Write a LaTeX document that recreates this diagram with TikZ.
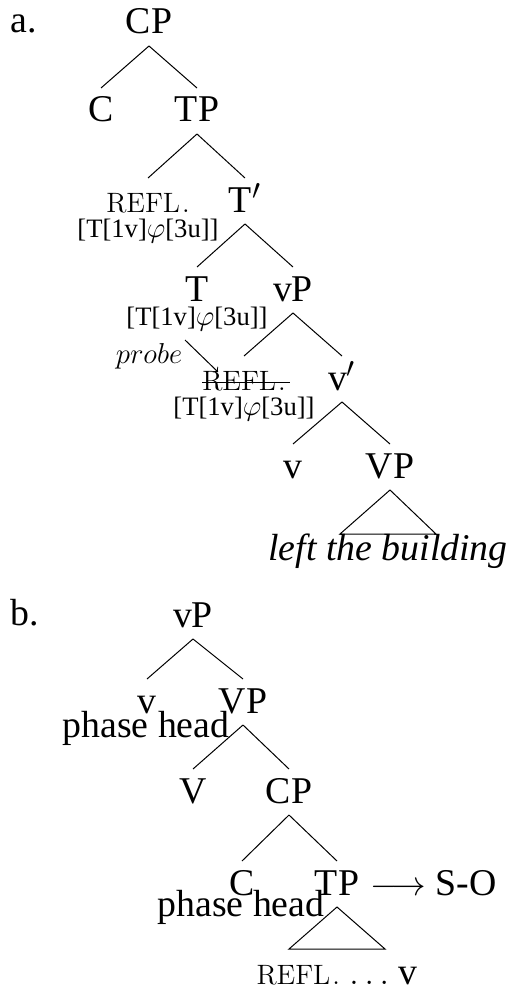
\documentclass[tikz,border=0pt]{standalone}
\usepackage{amsmath}
\usepackage{amsfonts}
\usepackage{fontspec}
\setmainfont{Liberation Serif}
\usepackage{tikz}
\usetikzlibrary{positioning,shapes,arrows,calc}
\newcommand{\refl}{{\fontfamily{lmr}\fontsize{14}{16}\selectfont REFL\kern1pt.}}
\newcommand{\featbundle}{[T[1v]$\varphi$[3u]]}

\begin{document}
\begin{tikzpicture}[x=0.5pt,y=-0.5pt]
\tikzstyle{every node}+=[inner sep=0pt,anchor=base]
\tikzstyle{cat}=[font=\fontsize{18.9}{22}\selectfont,text height=16.8pt,text depth=5.8pt]
\tikzstyle{feat}=[font=\fontsize{13.3}{16}\selectfont]
\tikzstyle{branch}=[black,line width=0.5pt]
\useasboundingbox (0,0) rectangle (511,990);
\node[cat,anchor=base west] (labela) at (10,33) {a.};
\node[cat] (CPa) at (149,34) {CP};
\node[cat] (Ca) at (101,122) {C};
\node[cat] (TPa) at (197,122) {TP};
\node[cat] (reflone) at (148,212) {\refl};
\node[feat] (featone) at (148,237) {\featbundle};
\node[cat] (Tbar) at (245,212) {T$'$};
\node[cat] (Ta) at (197,301) {T};
\node[feat] (feattwo) at (197,325) {\featbundle};
\node[cat] (vPa) at (293,301) {vP};
\node[feat] (probe) at (149,363) {$probe$};
\coordinate (probetail) at (185,340);
\node[cat] (refltwo) at (244,390) {\refl};
\node[feat] (featthree) at (244,415) {\featbundle};
\node[cat] (vbar) at (342,390) {v$'$};
\node[cat] (va) at (293,478) {v};
\node[cat] (VPa) at (390,478) {VP};
\node[cat,font=\fontsize{18.9}{22}\selectfont\itshape] (building) at (388,560) {left the building};
\draw[branch] (CPa.south) -- (Ca.north);
\draw[branch] (CPa.south) -- (TPa.north);
\draw[branch] (TPa.south) -- (reflone.north);
\draw[branch] (TPa.south) -- (Tbar.north);
\draw[branch] (Tbar.south) -- (Ta.north);
\draw[branch] (Tbar.south) -- (vPa.north);
\draw[branch] (vPa.south) -- (refltwo.north);
\draw[branch] (vPa.south) -- (vbar.north);
\draw[branch] (vbar.south) -- (va.north);
\draw[branch] (vbar.south) -- (VPa.north);
\draw[branch] (VPa.south) -- ($(building.base)+(-48,-26)$) -- ($(building.base)+(48,-26)$) -- cycle;
\draw[branch,->] (probetail) -- ($(refltwo.base)+(-26,-18)$);
\draw[branch] ($(refltwo.base west)+(0,-8)$) -- ($(refltwo.base east)+(4,-8)$);
\node[cat,anchor=base west] (labelb) at (10,625) {b.};
\node[cat] (vPb) at (193,627) {vP};
\node[cat] (vb) at (147,713) {v};
\node[cat] (phaseone) at (146,737) {phase head};
\node[cat] (VPb) at (243,713) {VP};
\node[cat] (Vb) at (193,803) {V};
\node[cat] (CPb) at (289,803) {CP};
\node[cat] (Cb) at (242,895) {C};
\node[cat] (phasetwo) at (241,916) {phase head};
\node[cat] (TPb) at (337,895) {TP};
\node[cat,anchor=base west] (SO) at (370,895) {$\longrightarrow$ S-O};
\node[cat] (leafb) at (337,984) {\refl{} $\ldots$ v};
\draw[branch] (vPb.south) -- (vb.north);
\draw[branch] (vPb.south) -- (VPb.north);
\draw[branch] (VPb.south) -- (Vb.north);
\draw[branch] (VPb.south) -- (CPb.north);
\draw[branch] (CPb.south) -- (Cb.north);
\draw[branch] (CPb.south) -- (TPb.north);
\draw[branch] (TPb.south) -- ($(leafb.base)+(-48,-35)$) -- ($(leafb.base)+(48,-35)$) -- cycle;
\end{tikzpicture}
\end{document}
